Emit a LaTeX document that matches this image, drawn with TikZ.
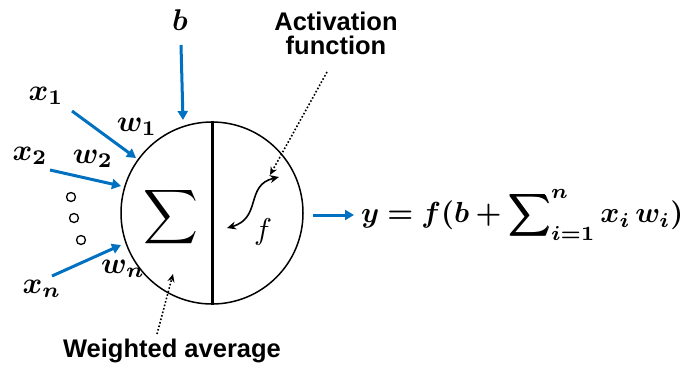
\documentclass[tikz,border=0pt]{standalone}
\usepackage{fontspec}
\usepackage{amsmath,bm,graphicx}
\setsansfont{Liberation Sans}
\usetikzlibrary{arrows.meta}
\definecolor{arrowblue}{HTML}{0070C0}
\newcommand{\mlab}[2][3.0]{\scalebox{#1}{$#2$}}
\begin{document}
\begin{tikzpicture}[x=1pt,y=-1pt,
  inarrow/.style={draw=arrowblue,line width=3pt,-{Triangle[length=9pt,width=10pt]}},
  mlabel/.style={inner sep=0pt},
  tlabel/.style={inner sep=0pt,font=\fontsize{25.5}{28}\selectfont\sffamily\bfseries,align=center},
  pointer/.style={line width=1.6pt,dotted,-{Stealth[length=8pt,width=7pt]}},
  dotc/.style={draw,line width=1.3pt,circle,minimum size=9pt,inner sep=0pt}]
\useasboundingbox (0,0) rectangle (692,367);
% neuron
\node[draw,line width=1.5pt,circle,minimum size=182pt,inner sep=0pt] (neuron) at (212,213) {};
\draw[line width=3pt] (neuron.north) -- (neuron.south);
\node[mlabel] (sig) at (171,217) {\mlab[3.8]{\displaystyle\sum}};
\node[mlabel] (f) at (263,232) {\mlab{f}};
% inputs
\node[mlabel] (b) at (180,20) {\mlab{\bm{b}}};
\coordinate (bs) at (181,45); \coordinate (be) at (183,120);
\draw[inarrow] (bs) -- (be);
\node[mlabel] (x1) at (46,96) {\mlab{\bm{x_1}}};
\coordinate (x1s) at (72,111); \coordinate (x1e) at (136,158);
\draw[inarrow] (x1s) -- (x1e);
\node[mlabel] (w1) at (137,127) {\mlab{\bm{w_1}}};
\node[mlabel] (x2) at (30,156) {\mlab{\bm{x_2}}};
\coordinate (x2s) at (50,170); \coordinate (x2e) at (121,186);
\draw[inarrow] (x2s) -- (x2e);
\node[mlabel] (w2) at (93,159) {\mlab{\bm{w_2}}};
\node[dotc] (d1) at (71,197) {};
\node[dotc] (d2) at (74,218) {};
\node[dotc] (d3) at (81,240) {};
\node[mlabel] (xn) at (42,289) {\mlab{\bm{x_n}}};
\coordinate (xns) at (52,276); \coordinate (xne) at (121,245);
\draw[inarrow] (xns) -- (xne);
\node[mlabel] (wn) at (123,269) {\mlab{\bm{w_n}}};
% activation curve
\coordinate (ca) at (227,228); \coordinate (cb) at (279,177);
\draw[line width=1.6pt,{Stealth[length=9pt,width=8pt]}-{Stealth[length=9pt,width=8pt]}] (ca) .. controls (262,218) and (245,185) .. (cb);
% labels
\node[tlabel] (act) at (336,33) {Activation\\[-4pt]function};
\coordinate (as) at (327,72); \coordinate (ae) at (270,175);
\draw[pointer] (as) -- (ae);
\node[tlabel] (wa) at (172,351) {Weighted average};
\coordinate (ws) at (157,334); \coordinate (we) at (173,274);
\draw[pointer] (ws) -- (we);
% output
\coordinate (os) at (313,215); \coordinate (oe) at (354,215);
\draw[inarrow] (os) -- (oe);
\node[mlabel,anchor=west] (eq) at (361,215) {\mlab[2.9]{\bm{y = f(b + \displaystyle\sum\nolimits_{i=1}^{n} x_i\, w_i)}}};
\end{tikzpicture}
\end{document}
